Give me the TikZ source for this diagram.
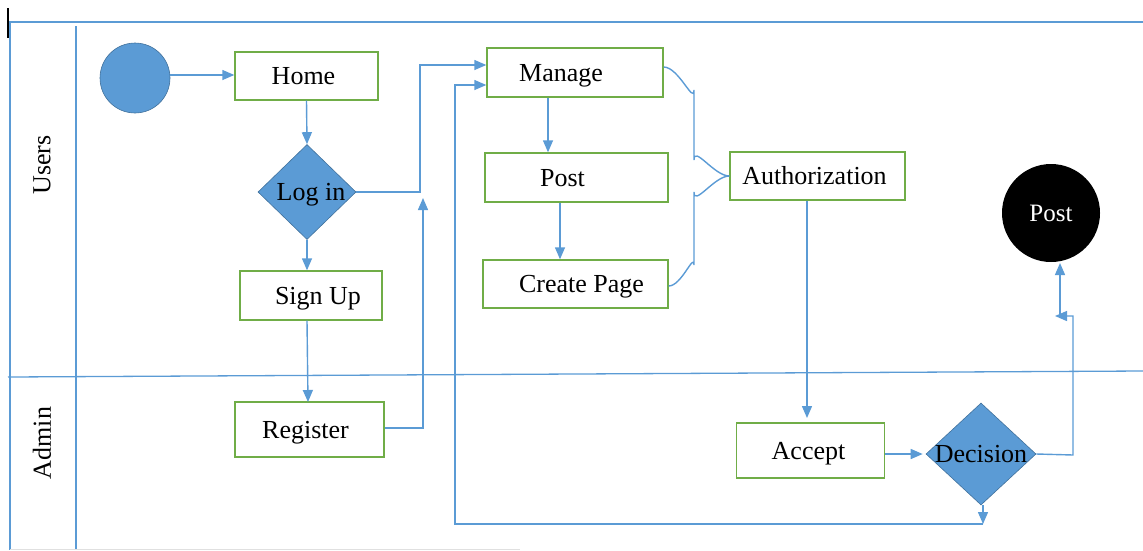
\documentclass[tikz,border=0pt]{standalone}
\usepackage{fontspec}
\setmainfont{Liberation Serif}
\usetikzlibrary{shapes.geometric,arrows.meta,calc}
\definecolor{flowblue}{HTML}{5B9BD5}
\definecolor{flowedge}{HTML}{41719C}
\definecolor{boxgreen}{HTML}{70AD47}
\newcommand{\flowfont}{\fontsize{26}{28}\selectfont}
\tikzset{
  captext/.style={text height=17pt, text depth=0pt},
  lane/.style={draw=flowblue, line width=1.3pt},
  stepbox/.style={draw=boxgreen, line width=1.4pt, fill=white, inner sep=0pt, font=\flowfont, captext},
  choice/.style={diamond, draw=flowedge, line width=0.6pt, fill=flowblue, inner sep=0pt},
  choicetext/.style={font=\flowfont, captext, inner sep=0pt},
  conn/.style={draw=flowblue, line width=1.4pt},
  arr/.style={conn, -{Triangle[length=12pt,width=10pt]}},
  lanelabel/.style={rotate=90, font=\flowfont}
}
\begin{document}
\begin{tikzpicture}[x=1pt,y=-1pt]
\useasboundingbox (0,0) rectangle (1143,550);

% swimlane frame
\draw[lane] (8,22) -- (1143,22);
\draw[black, line width=1.3pt] (8,8) -- (8,38);
\draw[lane] (10,22) -- (10,550);
\draw[lane] (76,26) -- (76,550);
\draw[lane] (8,377) -- (1143,371);
\draw[black!12, line width=1pt] (10,549) -- (520,549);
\node[lanelabel] (users) at (42,165) {Users};
\node[lanelabel] (admin) at (42,443) {Admin};

% activities
\node[circle, draw=flowedge, line width=0.6pt, fill=flowblue, minimum size=70pt, inner sep=0pt] (start) at (135,78) {};
\node[stepbox, minimum width=143pt, minimum height=48pt] (home) at (306.5,76) {\kern-6pt Home};
\node[choice, minimum width=98pt, minimum height=95pt, label={[choicetext]center:\kern8pt Log in}] (login) at (307,192) {};
\node[stepbox, minimum width=142pt, minimum height=49pt] (signup) at (311,295.5) {\kern14pt Sign Up};
\node[stepbox, minimum width=149pt, minimum height=55pt] (register) at (309.5,429.5) {Register\kern8pt};
\node[stepbox, minimum width=176pt, minimum height=49pt] (manage) at (575,72.5) {Manage\kern28pt};
\node[stepbox, minimum width=183pt, minimum height=49pt] (post) at (576.5,177.5) {Post\kern28pt};
\node[stepbox, minimum width=185pt, minimum height=48pt] (create) at (575.5,284) {\kern12pt Create Page};
\node[stepbox, minimum width=175pt, minimum height=48pt] (auth) at (817.5,176) {Authorization\kern6pt};
\node[stepbox, minimum width=148pt, minimum height=55pt] (accept) at (810.5,450.5) {Accept\kern4pt};
\node[choice, minimum width=110pt, minimum height=102pt, label={[choicetext]center:Decision}] (decision) at (981,454) {};
\node[circle, fill=black, minimum size=98pt, inner sep=0pt, text=white, font=\fontsize{25}{27}\selectfont, captext] (postend) at (1051,213) {Post};

% bend points
\coordinate (loginbend) at (420,192);
\coordinate (regup) at (423,198);
\coordinate (regbend) at (423,428);
\coordinate (loopbot) at (983,524);
\coordinate (loopleft) at (455,524);
\coordinate (braceup) at (694,90);
\coordinate (bracedn) at (694,265);
\coordinate (decbend) at (1073,455);
\coordinate (decup) at (1073,316);
\coordinate (posttip) at (1055,316);
\coordinate (postfoot) at (1060,318);

% connectors
\draw[arr] (start.east |- 0,75) -- (home.west |- 0,75);
\draw[arr] (home.south) -- (login.north);
\draw[arr] (login.south) -- (login.south |- signup.north);
\draw[arr] (signup.south -| 307,0) -- (308,402);
\draw[arr] (login.east) -- (loginbend) |- (manage.west |- 0,65);
\draw[arr] (register.east |- regbend) -- (regbend) -- (regup);
\draw[arr] (decision.south -| loopbot) -- (loopbot);
\draw[arr] (loopbot) -- (loopleft) |- (manage.west |- 0,85);
\draw[arr] (manage.south -| 548,0) -- (post.north -| 548,0);
\draw[arr] (post.south -| 560,0) -- (create.north -| 560,0);
\draw[conn] (manage.east |- 0,67) to[out=0,in=-90] (braceup) -- (694,160) to[out=90,in=180] (auth.west |- 0,176);
\draw[conn] (create.east |- 0,286) to[out=0,in=90] (bracedn) -- (694,192) to[out=-90,in=180] (auth.west |- 0,176);
\draw[arr] (auth.south -| 807,0) -- (807,418);
\draw[arr, shorten >=3pt] (accept.east |- decision.west) -- (decision.west);
\draw[arr] (decision.east) -- (decbend) -- (decup) -- (posttip);
\draw[arr] (postfoot) -- (1060,263);
\end{tikzpicture}
\end{document}
